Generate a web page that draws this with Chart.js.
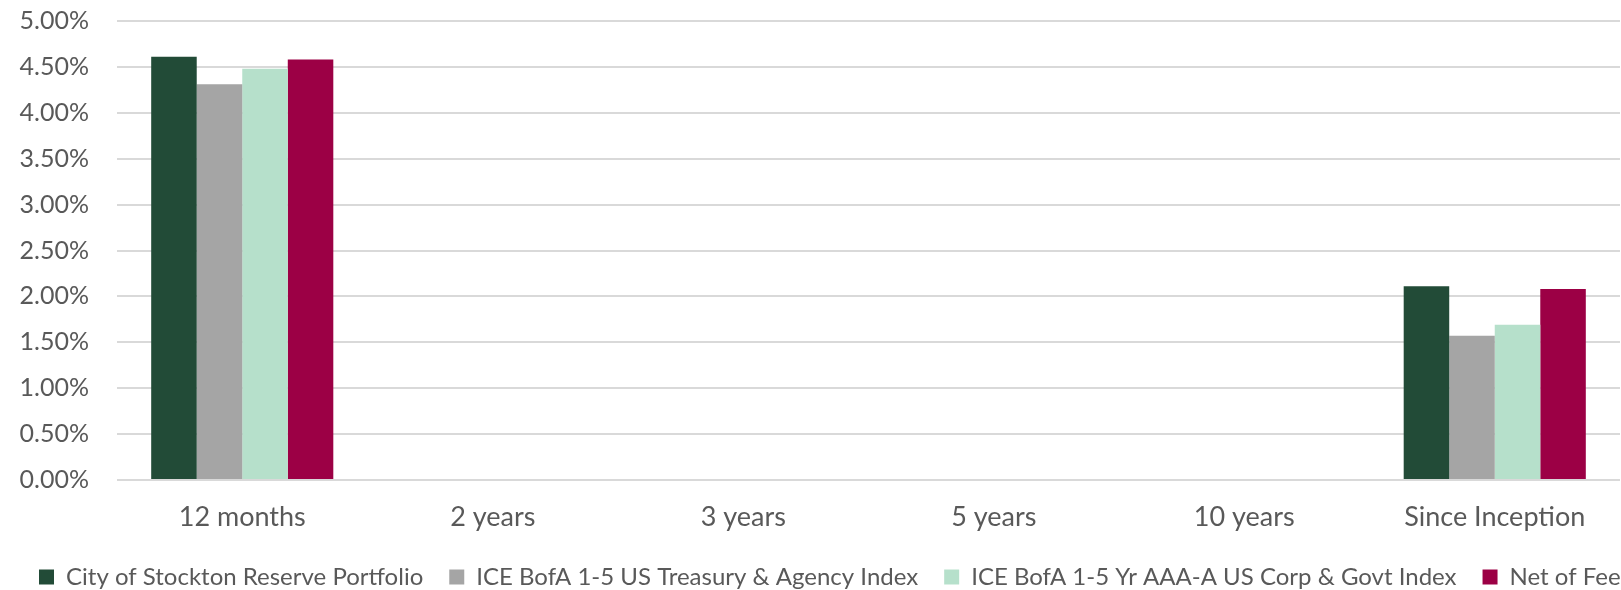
<!DOCTYPE html>
<html>
<head>
<meta charset="utf-8">
<title>Annualized Returns</title>
<script src="https://cdn.jsdelivr.net/npm/chart.js@4.4.1/dist/chart.umd.min.js"></script>
<style>
  html, body { margin: 0; padding: 0; background: #fff; overflow: hidden; }
  .frame { width: 1621px; height: 590px; overflow: hidden; position: relative; }
  canvas { display: block; margin-top: -22px; }
</style>
</head>
<body>
<div class="frame">
  <canvas id="returnsChart" width="1670" height="621"></canvas>
</div>
<script>
// Periods and returns (%)
const categories = ["12 months", "2 years", "3 years", "5 years", "10 years", "Since Inception"]
const portfolio = [4.61, null, null, null, null, 2.11]
const treasuryIndex = [4.31, null, null, null, null, 1.57]
const corpGovtIndex = [4.48, null, null, null, null, 1.69]
const netOfFees = [4.58, null, null, null, null, 2.08]

const seriesNames = [
  "City of Stockton Reserve Portfolio",
  "ICE BofA 1-5 US Treasury & Agency Index",
  "ICE BofA 1-5 Yr AAA-A US Corp & Govt Index",
  "Net of Fees"
]
const seriesColors = ["#224b37", "#a5a5a5", "#b6e0cb", "#9c0045"]

// y axis: 0.00% .. 5.00% every 0.50%
const yMin = 0
const yMax = 5
const yStep = 0.5

const textColor = "#595959"
const gridColor = "#d9d9d9"

document.addEventListener("DOMContentLoaded", () => {
  renderChart()
})

function renderChart() {
  const ctx = document.getElementById("returnsChart").getContext("2d")
  const seriesData = [portfolio, treasuryIndex, corpGovtIndex, netOfFees]

  window.returnsChart = new Chart(ctx, {
    type: "bar",
    data: {
      labels: categories,
      datasets: seriesData.map((values, i) => ({
        label: seriesNames[i],
        data: values,
        backgroundColor: seriesColors[i],
        borderWidth: 0,
        categoryPercentage: 0.727,
        barPercentage: 1
      }))
    },
    options: {
      responsive: false,
      animation: false,
      layout: { padding: 0 },
      plugins: {
        legend: {
          position: "bottom",
          labels: {
            color: textColor,
            font: { family: "Lato", size: 24 },
            boxWidth: 15,
            boxHeight: 15,
            padding: 26
          }
        },
        tooltip: { enabled: false }
      },
      scales: {
        x: {
          grid: { display: false },
          border: { display: false },
          ticks: {
            color: textColor,
            font: { family: "Lato", size: 27 },
            padding: 13,
            maxRotation: 0
          },
          afterFit: (scale) => { scale.height = 59 }
        },
        y: {
          min: yMin,
          max: yMax,
          grid: { color: gridColor, lineWidth: 2, drawTicks: false },
          border: { display: false },
          ticks: {
            stepSize: yStep,
            color: textColor,
            font: { family: "Lato", size: 25 },
            padding: 28,
            callback: (v) => v.toFixed(2) + "%"
          },
          afterFit: (scale) => { scale.width = 117 }
        },
        // empty right-hand axis keeps room so the plot ends at the frame edge
        spacer: {
          position: "right",
          display: true,
          grid: { display: false },
          border: { display: false },
          ticks: { display: false },
          afterFit: (scale) => { scale.width = 50 }
        }
      }
    }
  })
}
</script>
</body>
</html>
